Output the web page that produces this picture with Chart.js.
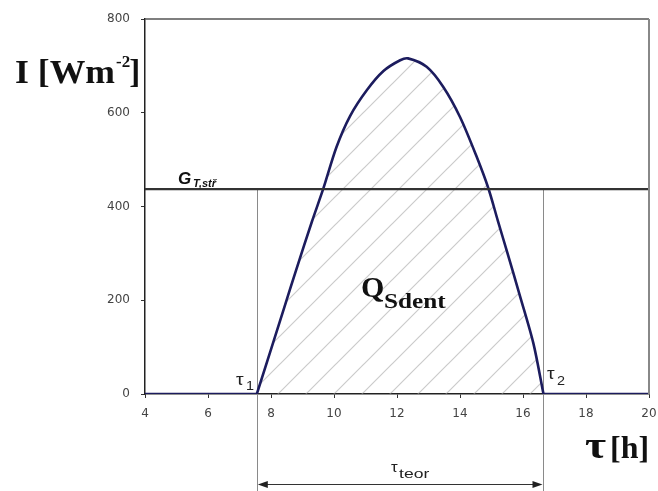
<!DOCTYPE html>
<html>
<head>
<meta charset="utf-8">
<script src="https://cdn.jsdelivr.net/npm/chart.js@4/dist/chart.umd.min.js"></script>
<style>
  html, body { margin: 0; padding: 0; background: #fff; overflow: hidden; }
  #wrap { width: 658px; height: 491px; position: relative; }
  canvas { display: block; }
</style>
</head>
<body>
<div id="wrap"><canvas id="chart"></canvas></div>
<script>
// irradiance over the day (hour, W/m2)
const hours      = [4, 7.55, 8.4, 8.8, 9.3, 9.66, 10.08, 10.51, 11.04, 11.57, 12.1, 12.35, 12.94, 13.47, 14.0, 14.53, 14.9, 15.2, 15.5, 15.9, 16.33, 16.65, 20];
const irradiance = [0, 0,    180, 265, 368, 438,  527,   593,   648,   689,   712,  716,   698,   655,   591,  506,   439,  370,  302,  210,  108,   0,     0];

// mean level and the two crossing times
const gMean = 437;
const tauStart = 7.55;
const tauEnd = 16.65;

const xTicks = [4, 6, 8, 10, 12, 14, 16, 18, 20];
const yTicks = [0, 200, 400, 600, 800];

const allPoints = hours.map((h, i) => ({ x: h, y: irradiance[i] }));
// daytime arc and the night-time zero stretches are separate so the corners stay sharp
const dayPoints = allPoints.filter(p => p.x >= tauStart && p.x <= tauEnd);
const nightPoints = allPoints.map(p => (p.x > tauStart && p.x < tauEnd) ? { x: p.x, y: null } : p);
const meanLine = [{ x: 4, y: gMean }, { x: 20, y: gMean }];

// diagonal hatch for the area under the curve
function hatchPattern() {
    const s = 28;
    const c = document.createElement('canvas');
    c.width = s; c.height = s;
    const g = c.getContext('2d');
    g.strokeStyle = 'rgba(160,160,160,0.55)';
    g.lineWidth = 1.2;
    g.beginPath();
    g.moveTo(-2, s + 2); g.lineTo(s + 2, -2);
    g.moveTo(-2, 2); g.lineTo(2, -2);
    g.moveTo(s - 2, s + 2); g.lineTo(s + 2, s - 2);
    g.stroke();
    return g.createPattern(c, 'repeat');
}

// text with a little horizontal stretch
function wideText(ctx, text, x, y, font, sx) {
    ctx.save();
    ctx.font = font;
    ctx.translate(x, y);
    ctx.scale(sx, 1);
    ctx.fillText(text, 0, 0);
    const w = ctx.measureText(text).width * sx;
    ctx.restore();
    return w;
}

const ctx = document.getElementById('chart').getContext('2d');

const drawBehind = {
    id: 'drawBehind',
    beforeDatasetsDraw(chart) {
        const { ctx, scales: { x, y } } = chart;
        ctx.save();
        ctx.strokeStyle = '#8a8a8a';
        ctx.lineWidth = 1;
        [tauStart, tauEnd].forEach(t => {
            const px = Math.round(x.getPixelForValue(t)) + 0.5;
            ctx.beginPath();
            ctx.moveTo(px, y.getPixelForValue(gMean));
            ctx.lineTo(px, 491);
            ctx.stroke();
        });
        ctx.restore();
    }
};

const drawLabels = {
    id: 'drawLabels',
    afterDraw(chart) {
        const { ctx, chartArea: a, scales: { x, y } } = chart;
        ctx.save();

        // frame top and right
        ctx.strokeStyle = '#555';
        ctx.lineWidth = 1.5;
        ctx.beginPath();
        ctx.moveTo(a.left, a.top);
        ctx.lineTo(a.right, a.top);
        ctx.stroke();
        ctx.strokeStyle = '#888';
        ctx.lineWidth = 2;
        ctx.beginPath();
        ctx.moveTo(a.right, a.top);
        ctx.lineTo(a.right, a.bottom);
        ctx.stroke();

        ctx.fillStyle = '#111';
        ctx.textBaseline = 'alphabetic';
        ctx.textAlign = 'left';

        // y axis title
        let w = wideText(ctx, 'I [Wm', 15, 83, 'bold 33px "Liberation Serif"', 1.08);
        let w2 = wideText(ctx, '-2', 15 + w + 1, 67, 'bold 17px "Liberation Serif"', 1.0);
        wideText(ctx, ']', 15 + w + w2, 83, 'bold 33px "Liberation Serif"', 1.0);

        // x axis title
        wideText(ctx, 'τ', 585, 458, 'bold 38px "Liberation Serif"', 1.2);
        wideText(ctx, '[h]', 610, 458, 'bold 31px "Liberation Serif"', 1.03);

        // mean level label
        ctx.font = 'italic bold 17px "Liberation Sans"';
        ctx.fillText('G', 178, 184);
        ctx.font = 'italic bold 11px "Liberation Sans"';
        ctx.fillText('T,stř', 193, 187);

        // area label
        wideText(ctx, 'Q', 361, 297, 'bold 30px "Liberation Serif"', 1.0);
        wideText(ctx, 'Sdent', 384, 308, 'bold 21px "Liberation Serif"', 1.2);

        // tau markers
        ctx.fillStyle = '#222';
        wideText(ctx, 'τ', 236, 385, '16px "Liberation Sans"', 1.2);
        wideText(ctx, '1', 246, 390, '12px "Liberation Sans"', 1.2);
        wideText(ctx, 'τ', 547, 379, '16px "Liberation Sans"', 1.2);
        wideText(ctx, '2', 557, 385, '12px "Liberation Sans"', 1.2);
        wideText(ctx, 'τ', 391, 472, '14px "Liberation Sans"', 1.2);
        wideText(ctx, 'teor', 399, 478, '13px "Liberation Sans"', 1.35);

        // span arrow
        const x1 = x.getPixelForValue(tauStart) + 1;
        const x2 = x.getPixelForValue(tauEnd) - 1;
        const ay = 484.5;
        ctx.strokeStyle = '#333';
        ctx.fillStyle = '#222';
        ctx.lineWidth = 1;
        ctx.beginPath();
        ctx.moveTo(x1 + 6, ay); ctx.lineTo(x2 - 6, ay);
        ctx.stroke();
        ctx.beginPath();
        ctx.moveTo(x1, ay); ctx.lineTo(x1 + 10, ay - 3.5); ctx.lineTo(x1 + 10, ay + 3.5);
        ctx.closePath(); ctx.fill();
        ctx.beginPath();
        ctx.moveTo(x2, ay); ctx.lineTo(x2 - 10, ay - 3.5); ctx.lineTo(x2 - 10, ay + 3.5);
        ctx.closePath(); ctx.fill();

        ctx.restore();
    }
};

const tickFont = { family: 'DejaVu Sans', size: 12 };

new Chart(ctx, {
    type: 'line',
    data: {
        datasets: [
            {
                data: dayPoints,
                borderColor: '#1c1c5e',
                borderWidth: 2.6,
                backgroundColor: hatchPattern(),
                fill: 'origin',
                pointRadius: 0,
                tension: 0.3,
                order: 2
            },
            {
                data: nightPoints,
                borderColor: '#1c1c5e',
                borderWidth: 2.6,
                pointRadius: 0,
                fill: false,
                spanGaps: false,
                order: 2
            },
            {
                data: meanLine,
                borderColor: '#333',
                borderWidth: 2.2,
                pointRadius: 0,
                fill: false,
                order: 1
            }
        ]
    },
    options: {
        responsive: true,
        maintainAspectRatio: false,
        animation: false,
        layout: { padding: { top: 19, right: 9, left: 0, bottom: 0 } },
        plugins: {
            legend: { display: false },
            tooltip: { enabled: false }
        },
        scales: {
            x: {
                type: 'linear',
                min: 4,
                max: 20,
                afterBuildTicks: s => { s.ticks = xTicks.map(v => ({ value: v })); },
                afterFit: s => { s.height = 97; s.paddingLeft = 0; s.paddingRight = 0; },
                grid: { drawOnChartArea: false, tickLength: 4, color: '#333' },
                border: { color: '#222', width: 1.5 },
                ticks: { color: '#444', font: tickFont, padding: 9, maxRotation: 0 }
            },
            y: {
                min: 0,
                max: 800,
                afterBuildTicks: s => { s.ticks = yTicks.map(v => ({ value: v })); },
                afterFit: s => { s.width = 145; s.paddingTop = 0; s.paddingBottom = 0; },
                grid: { drawOnChartArea: false, tickLength: 4, color: '#333' },
                border: { color: '#222', width: 1.5 },
                ticks: { color: '#444', font: tickFont, padding: 11 }
            }
        }
    },
    plugins: [drawBehind, drawLabels]
});
</script>
</body>
</html>
